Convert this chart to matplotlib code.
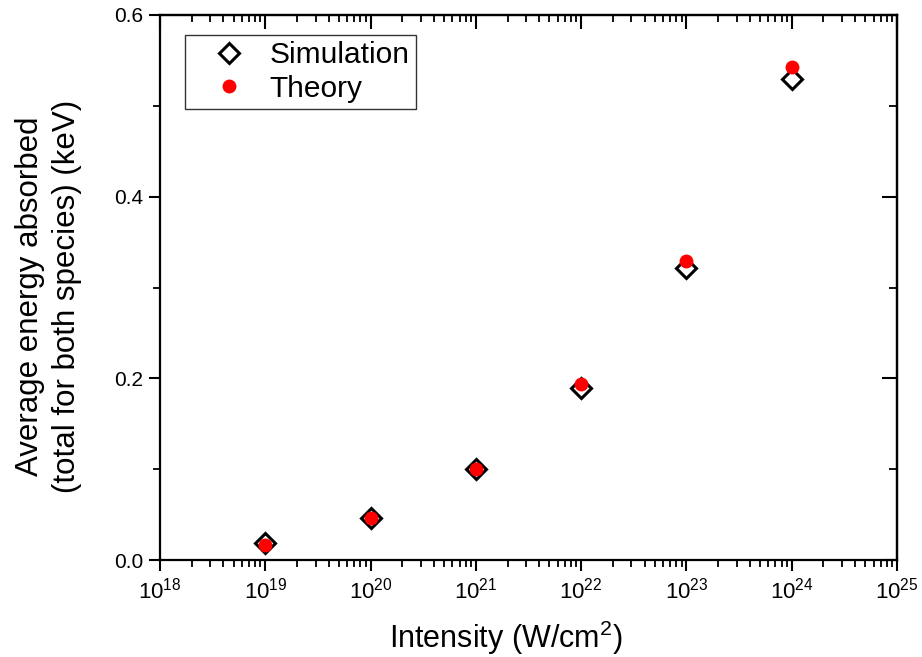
import matplotlib
matplotlib.use("Agg")
import matplotlib.pyplot as plt
from matplotlib.ticker import FixedLocator, NullFormatter, FixedFormatter

plt.rcParams['font.family'] = ['Liberation Sans', 'DejaVu Sans']
plt.rcParams['mathtext.fontset'] = 'custom'
plt.rcParams['mathtext.rm'] = 'Liberation Sans'
plt.rcParams['mathtext.it'] = 'Liberation Sans:italic'

# Laser intensity (W/cm^2) and average absorbed energy (keV)
intensity = [1e19, 1e20, 1e21, 1e22, 1e23, 1e24]
simulation = [0.019, 0.046, 0.100, 0.189, 0.322, 0.530]
theory = [0.017, 0.046, 0.100, 0.194, 0.329, 0.543]

x_exponents = [18, 19, 20, 21, 22, 23, 24, 25]
x_major = [10.0 ** e for e in x_exponents]
x_minor = [m * 10.0 ** e for e in x_exponents[:-1] for m in range(2, 10)]
x_ticklabels = [r'$10^{%d}$' % e for e in x_exponents]
y_major = [0.0, 0.2, 0.4, 0.6]
y_minor = [0.1, 0.3, 0.5]
y_ticklabels = ['0.0', '0.2', '0.4', '0.6']

fig = plt.figure(figsize=(9.22, 6.57), dpi=100)
ax = fig.add_axes([160/922, 1-560/657, (897-160)/922, (560-15)/657])

ax.plot(intensity, simulation, linestyle='none', marker='D', markersize=10,
        markerfacecolor='white', markeredgecolor='black', markeredgewidth=2.2,
        label='Simulation', zorder=3)
ax.plot(intensity, theory, linestyle='none', marker='o', markersize=10,
        markerfacecolor='red', markeredgecolor='red', markeredgewidth=0,
        label='Theory', zorder=4)

ax.set_xscale('log')
ax.set_xlim(1e18, 1e25)
ax.set_ylim(0.0, 0.6)

ax.xaxis.set_major_locator(FixedLocator(x_major))
ax.xaxis.set_minor_locator(FixedLocator(x_minor))
ax.xaxis.set_major_formatter(FixedFormatter(x_ticklabels))
ax.xaxis.set_minor_formatter(NullFormatter())
ax.yaxis.set_major_locator(FixedLocator(y_major))
ax.yaxis.set_minor_locator(FixedLocator(y_minor))
ax.yaxis.set_major_formatter(FixedFormatter(y_ticklabels))

for s in ax.spines.values():
    s.set_linewidth(1.6)

ax.tick_params(which='major', direction='out', length=8, width=1.5,
               top=False, right=False, pad=4)
ax.tick_params(axis='x', which='major', labelsize=16, pad=5)
ax.tick_params(axis='y', which='major', labelsize=15, pad=4)
ax.tick_params(which='minor', direction='out', length=5, width=1.3,
               top=False, right=False)

# inward ticks mirrored on the top and right spines
ax_top = ax.secondary_xaxis('top')
ax_top.set_xscale('log')
ax_top.xaxis.set_major_locator(FixedLocator(x_major))
ax_top.xaxis.set_minor_locator(FixedLocator(x_minor))
ax_top.xaxis.set_major_formatter(NullFormatter())
ax_top.xaxis.set_minor_formatter(NullFormatter())
ax_top.tick_params(which='major', direction='in', length=10, width=1.5)
ax_top.tick_params(which='minor', direction='in', length=5, width=1.3)
ax_top.spines['top'].set_linewidth(1.6)

ax_right = ax.secondary_yaxis('right')
ax_right.yaxis.set_major_locator(FixedLocator(y_major))
ax_right.yaxis.set_minor_locator(FixedLocator(y_minor))
ax_right.yaxis.set_major_formatter(NullFormatter())
ax_right.tick_params(which='major', direction='in', length=11, width=1.5)
ax_right.tick_params(which='minor', direction='in', length=6, width=1.3)
ax_right.spines['right'].set_linewidth(1.6)

ax.set_xlabel('Intensity (W/cm$^2$)', fontsize=22)
ax.xaxis.set_label_coords(0.469, -0.108)
ax.set_ylabel('Average energy absorbed\n(total for both species) (keV)',
              fontsize=22.5, linespacing=1.3)
ax.yaxis.set_label_coords(-0.106, 0.484)

leg = ax.legend(loc='upper left', bbox_to_anchor=((185-160)/737, (560-35)/545),
                fontsize=21.5, frameon=True, fancybox=False, edgecolor='black',
                borderpad=0.2, handletextpad=0.1, labelspacing=0.2,
                handlelength=2.54, borderaxespad=0)
leg.get_frame().set_linewidth(1.0)

fig.savefig('out.png', dpi=100)
